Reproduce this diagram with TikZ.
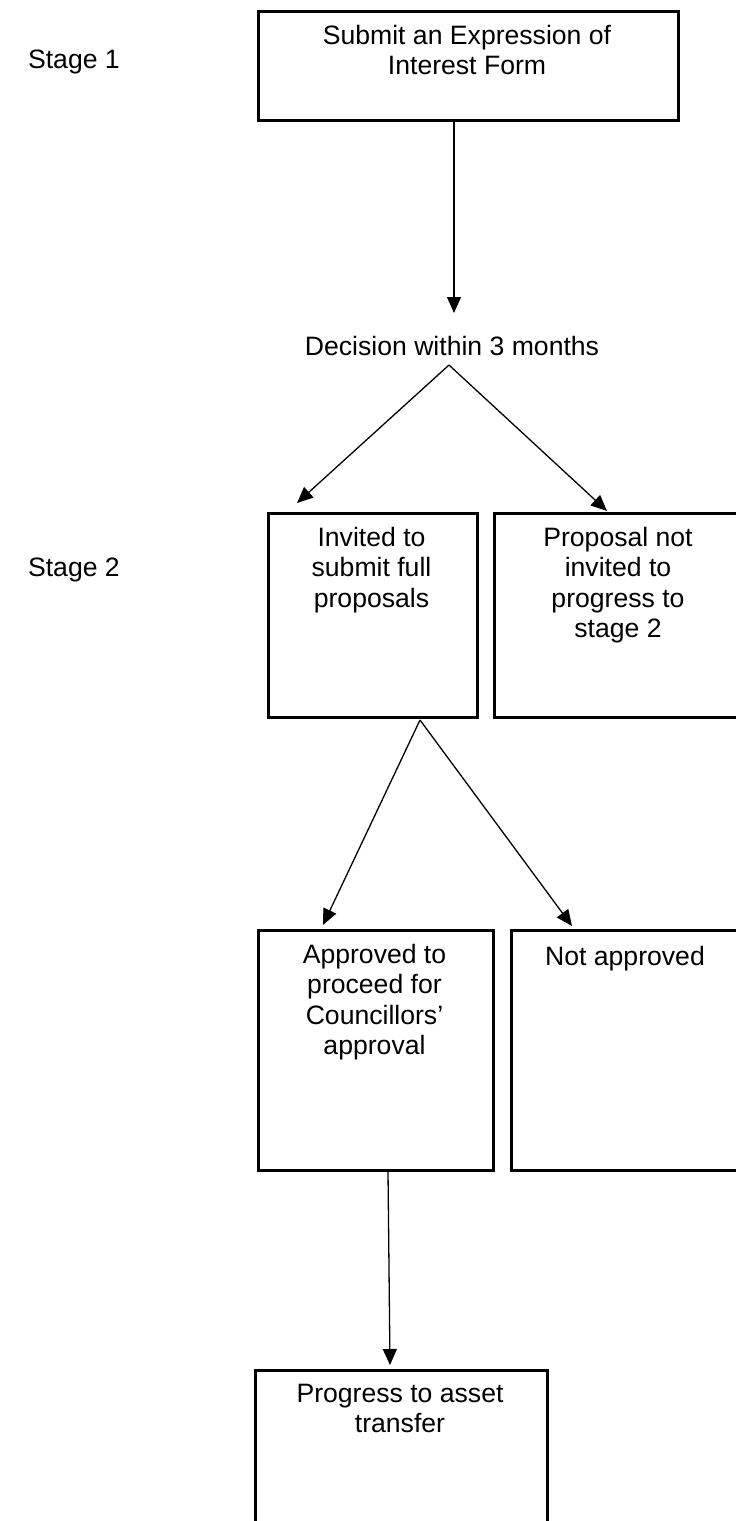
\documentclass[tikz,border=0pt]{standalone}
\usepackage{fontspec}
\setmainfont{Liberation Sans}
\usetikzlibrary{arrows.meta}
\begin{document}
\begin{tikzpicture}[x=1pt,y=-1pt,
  box/.style={draw, line width=2.5pt, inner sep=0pt, anchor=north west},
  txt/.style={font=\fontsize{26.6}{30.6}\selectfont, align=center, inner sep=0pt, anchor=north, execute at begin node=\strut},
  conn/.style={line width=1.3pt, -{Triangle[length=16pt,width=14pt]}},
  lbl/.style={font=\fontsize{26.6}{30.6}\selectfont, inner sep=0pt, anchor=base east}]
\useasboundingbox (0,0) rectangle (736,1521);
\clip (0,0) rectangle (736,1521);
% stage labels
\node[lbl] (st1) at (120,68) {Stage 1};
\node[lbl] (st2) at (120,576) {Stage 2};
% boxes
\node[box, minimum width=420pt, minimum height=109pt] (b1) at (257,10) {};
\node[box, minimum width=209pt, minimum height=204pt] (b2) at (267,512) {};
\node[box, minimum width=250pt, minimum height=204pt] (b3) at (493,512) {};
\node[box, minimum width=235pt, minimum height=240pt] (b4) at (257,929) {};
\node[box, minimum width=230pt, minimum height=240pt] (b5) at (510,929) {};
\node[box, minimum width=292pt, minimum height=171pt] (b6) at (254,1369) {};
% texts
\node[txt] (t1) at (467,24.6) {Submit an Expression of\\Interest Form};
\node[txt, anchor=base] (dec) at (452,355) {Decision within 3 months};
\node[txt] (t2) at (371.5,526.6) {Invited to\\submit full\\proposals};
\node[txt] (t3) at (618,526.6) {Proposal not\\invited to\\progress to\\stage 2};
\node[txt] (t4) at (374.5,943.6) {Approved to\\proceed for\\Councillors’\\approval};
\node[txt] (t5) at (625,943.6) {Not approved};
\node[txt] (t6) at (400,1383.6) {Progress to asset\\transfer};
% connector end points
\coordinate (dtip) at (454,313);
\coordinate (apex) at (449,365);
\coordinate (tip2) at (297,503);
\coordinate (tip3) at (607,511);
\coordinate (s2) at (420,720);
\coordinate (tip4) at (323,925);
\coordinate (tip5) at (572,926);
\coordinate (s4) at (388,1171);
\coordinate (tip6) at (390,1365);
% connectors
\draw[conn] (b1.south -| dtip) -- (dtip);
\draw[conn] (apex) -- (tip2);
\draw[conn] (apex) -- (tip3);
\draw[conn] (s2) -- (tip4);
\draw[conn] (s2) -- (tip5);
\draw[conn] (s4) -- (tip6);
\end{tikzpicture}
\end{document}
